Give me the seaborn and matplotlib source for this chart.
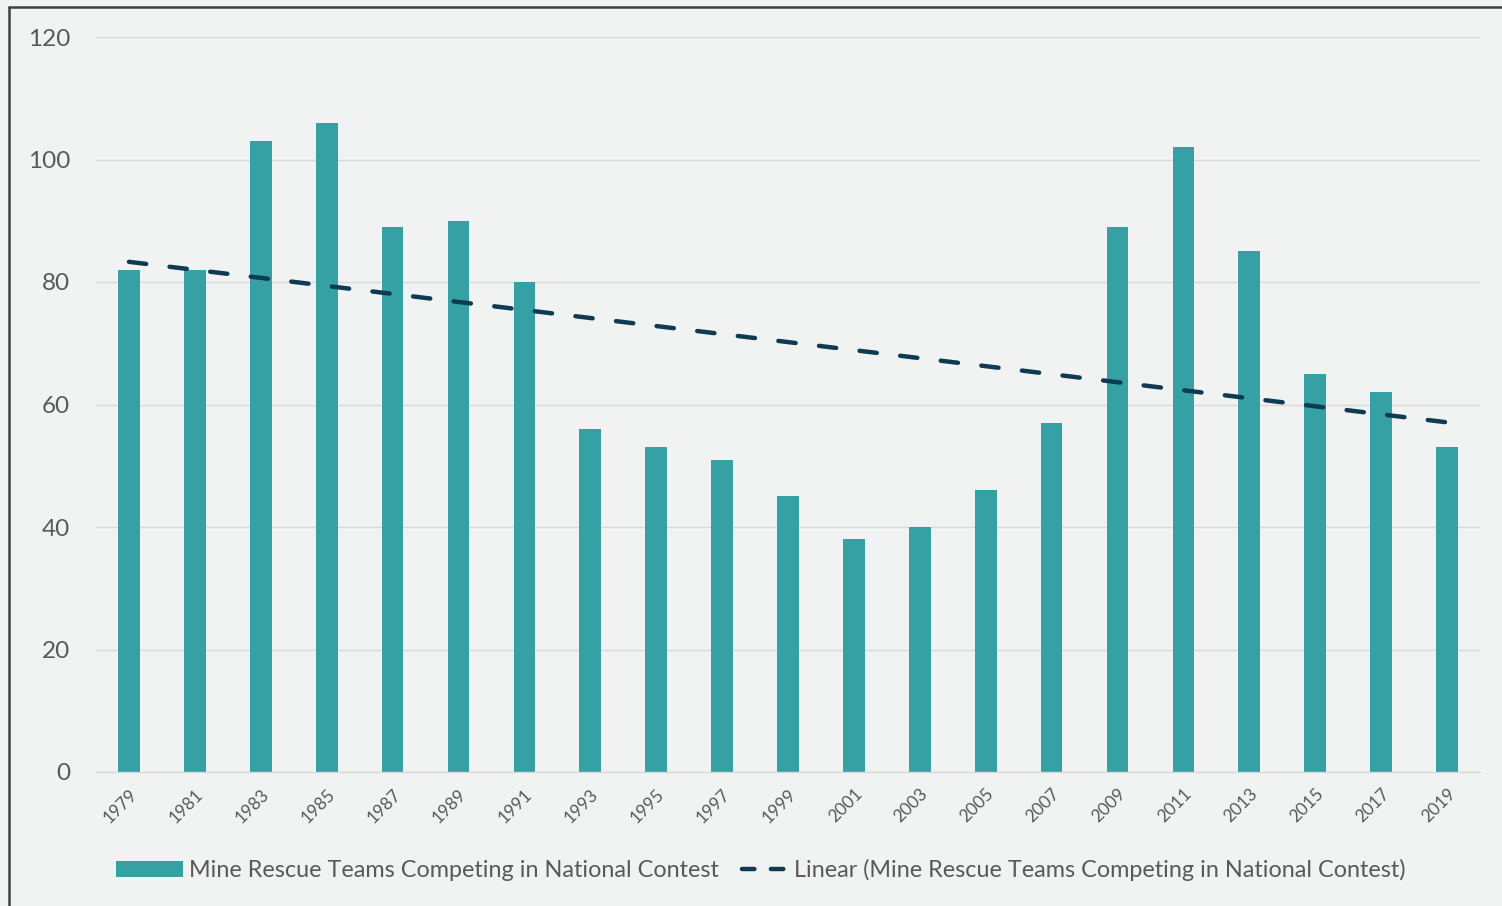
import numpy as np
import pandas as pd
import matplotlib
matplotlib.use("Agg")
import matplotlib.pyplot as plt
from matplotlib.lines import Line2D
from matplotlib.patches import Patch
from matplotlib.legend_handler import HandlerLine2D
import seaborn as sns

years = [str(y) for y in range(1979, 2020, 2)]
teams = [82, 82, 103, 106, 89, 90, 80, 56, 53, 51, 45, 38, 40, 46, 57, 89, 102, 85, 65, 62, 53]
bar_label = "Mine Rescue Teams Competing in National Contest"
trend_label = "Linear (Mine Rescue Teams Competing in National Contest)"
yticks = [0, 20, 40, 60, 80, 100, 120]

BG = "#f1f2f2"
BAR = "#35a1a4"
TREND = "#0e3a52"
TXT = "#595959"
GRID = "#d9d9d9"

sns.set_theme(style="white")
plt.rcParams["font.family"] = ["Lato", "DejaVu Sans"]

df = pd.DataFrame({"year": years, "teams": teams})

fig = plt.figure(figsize=(15.02, 9.06), dpi=100, facecolor=BG)
ax = fig.add_axes([96/1502, 1-772/906, (1480-96)/1502, (772-37)/906])
ax.set_facecolor(BG)

sns.barplot(data=df, x="year", y="teams", color=BAR, width=0.33, ax=ax,
            saturation=1, edgecolor="none")

xpos = np.arange(len(teams))
sns.regplot(x=xpos, y=np.array(teams, dtype=float), scatter=False, ci=None, truncate=True,
            ax=ax, line_kws=dict(color=TREND, lw=3.2, linestyle=(0, (3.9, 5.3)),
                                 solid_capstyle="round", dash_capstyle="round"))

ax.set_xlim(-0.5, len(teams) - 0.5)
ax.set_ylim(0, 120)
ax.set_yticks(yticks)
ax.set_yticklabels([str(v) for v in yticks], fontsize=17.5, color=TXT)
ax.set_xticks(xpos)
ax.set_xticklabels(years, rotation=45, ha="right", rotation_mode="anchor", fontsize=12.5, color=TXT)
ax.tick_params(axis="y", length=0, pad=18.5)
ax.tick_params(axis="x", length=0, pad=10)
ax.set_xlabel("")
ax.set_ylabel("")
ax.yaxis.grid(True, color=GRID, lw=1)
ax.set_axisbelow(True)
for s in ["top", "right", "left"]:
    ax.spines[s].set_visible(False)
ax.spines["bottom"].set_color(GRID)
ax.spines["bottom"].set_linewidth(1)


class RightLine(HandlerLine2D):
    def create_artists(self, legend, orig_handle, xdescent, ydescent, width, height, fontsize, trans):
        w2 = width * 0.69
        return super().create_artists(legend, orig_handle, xdescent - (width - w2), ydescent,
                                      w2, height, fontsize, trans)


trend_handle = Line2D([0], [0], color=TREND, lw=3.2, linestyle=(0, (2.8, 3.7)), dash_capstyle="round")
handles = [Patch(facecolor=BAR, edgecolor="none"), trend_handle]
fig.legend(handles, [bar_label, trend_label], loc="center", bbox_to_anchor=(761/1502, 1-870/906),
           ncol=2, frameon=False, fontsize=16.8, labelcolor=TXT, handlelength=2.87,
           handleheight=0.69, columnspacing=0.1, handletextpad=0.25,
           handler_map={trend_handle: RightLine()})

fig.add_artist(Line2D([9/1502, 9/1502], [0, 1-7/906], transform=fig.transFigure, color="#404040", lw=1.8))
fig.add_artist(Line2D([9/1502, 1], [1-7/906, 1-7/906], transform=fig.transFigure, color="#404040", lw=1.8))

fig.savefig("out.png", dpi=100, facecolor=BG)
